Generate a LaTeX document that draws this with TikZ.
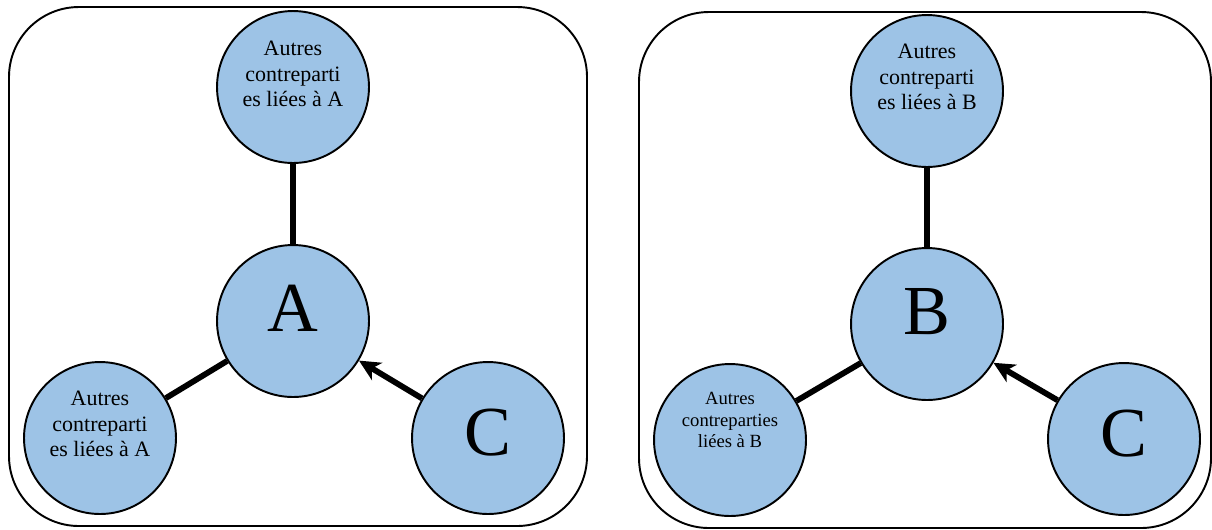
\documentclass[tikz,border=0pt]{standalone}
\usepackage{fontspec}
\setmainfont{Liberation Serif}
\usetikzlibrary{arrows.meta}

\definecolor{partyblue}{HTML}{9DC3E6}
\tikzstyle{party}=[circle,draw=black,line width=1.1pt,fill=partyblue,minimum size=3.04cm,inner sep=0pt]
\tikzstyle{frame}=[draw=black,line width=1.1pt,rounded corners=1.4cm]
\tikzstyle{link} = [draw,line width=3.3pt,-]
\tikzstyle{claim} = [draw,line width=3.3pt,-{Stealth[length=0.42cm,width=0.4cm,inset=0.12cm]}]
\tikzstyle{small}=[align=center,font=\fontsize{12.5}{14.5}\selectfont]
\tikzstyle{smaller}=[align=center,font=\fontsize{10.6}{12}\selectfont]
\tikzstyle{big}=[font=\fontsize{40}{40}\selectfont]

\begin{document}
\begin{tikzpicture}[x=0.02cm,y=-0.02cm]
	\useasboundingbox (0,0) rectangle (1212,529);
	% the two frames
	\path[frame] (9,7) rectangle (587,526);
	\path[frame] (639,12) rectangle (1211,528);
	% left panel
	\node[party,label={[small,yshift=0.26cm]center:{Autres\\contreparti\\es liées à A}}] (tA) at (293,87) {};
		\node[party,label={[big,yshift=0.26cm]center:A}] (A) at (293,321) {};
		\node[party,label={[small,yshift=0.28cm]center:{Autres\\contreparti\\es liées à A}}] (lA) at (100,438) {};
		\node[party,label={[big,yshift=0.1cm]center:C}] (cA) at (488,438) {};
	% right panel
	\node[party,label={[small,yshift=0.28cm]center:{Autres\\contreparti\\es liées à B}}] (tB) at (927,91) {};
		\node[party,label={[big,yshift=0.25cm]center:B}] (B) at (927,324) {};
		\node[party,label={[smaller,yshift=0.4cm]center:{Autres\\contreparties\\liées à B}}] (lB) at (730,440) {};
		\node[party,label={[big,yshift=0.1cm]center:C}] (cB) at (1124,439) {};
   		 % Connect the circles
   		 \foreach \source/ \dest in {tA/A, lA/A, tB/B, lB/B}
		 \path[link] (\source) -- (\dest);
   		 \foreach \source/ \dest in {cA/A, cB/B}
		 \path[claim] (\source) -- (\dest);
\end{tikzpicture}
\end{document}
